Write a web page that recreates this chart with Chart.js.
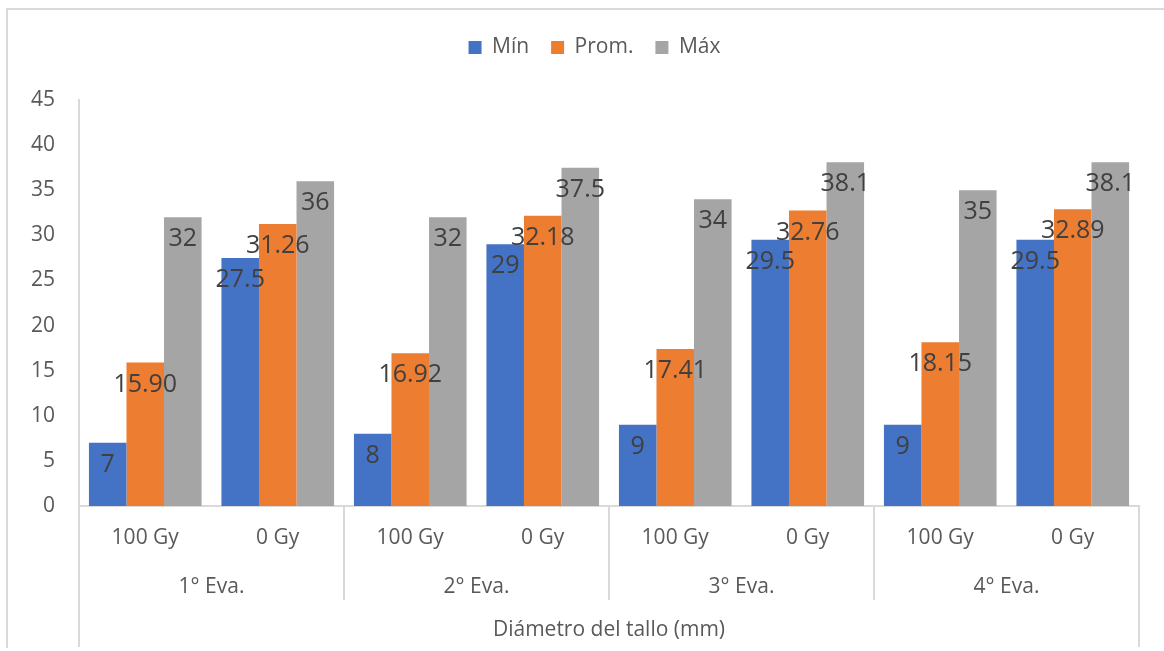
<!DOCTYPE html>
<html lang="es">
<head>
<meta charset="utf-8">
<title>Diámetro del tallo</title>
<script src="https://cdn.jsdelivr.net/npm/chart.js@4.4.1/dist/chart.umd.min.js"></script>
<style>
    html, body { margin: 0; padding: 0; background: #fff; }
    #contenedor { position: relative; width: 1164px; height: 651px; }
</style>
</head>
<body>
<div id="contenedor">
    <canvas id="grafica"></canvas>
</div>
<script>
    // Datos de la gráfica
    const tratamientos = ['100 Gy', '0 Gy', '100 Gy', '0 Gy', '100 Gy', '0 Gy', '100 Gy', '0 Gy'];
    const evaluaciones = ['1° Eva.', '2° Eva.', '3° Eva.', '4° Eva.'];
    const minimos = [7, 27.5, 8, 29, 9, 29.5, 9, 29.5];
    const promedios = [15.90, 31.26, 16.92, 32.18, 17.41, 32.76, 18.15, 32.89];
    const maximos = [32, 36, 32, 37.5, 34, 38.1, 35, 38.1];
    const ticksY = [0, 5, 10, 15, 20, 25, 30, 35, 40, 45];

    const fuente = "'Open Sans', 'Noto Sans', sans-serif";
    const colorTexto = '#595959';
    const colorLinea = '#d9d9d9';

    // Marco exterior del gráfico
    const marco = {
        id: 'marco',
        beforeDraw(chart) {
            const ctx = chart.ctx;
            ctx.save();
            ctx.strokeStyle = colorLinea;
            ctx.lineWidth = 2;
            ctx.beginPath();
            ctx.moveTo(7, 648);
            ctx.lineTo(7, 9);
            ctx.lineTo(chart.width, 9);
            ctx.stroke();
            ctx.restore();
        }
    };

    // Espacio extra debajo de la leyenda y leyenda centrada en el marco
    const espacioLeyenda = {
        id: 'espacioLeyenda',
        beforeLayout(chart) {
            const lg = chart.legend;
            if (lg && !lg._ajustada) {
                const fitOriginal = lg.fit;
                lg.fit = function () {
                    fitOriginal.call(this);
                    this.height = 85;
                };
                lg._ajustada = true;
            }
        },
        afterLayout(chart) {
            const lg = chart.legend;
            if (lg) {
                lg.left += 25;
                lg.right += 25;
            }
        }
    };

    // Eje de categorías en dos niveles (tratamiento / evaluación)
    const ejeAgrupado = {
        id: 'ejeAgrupado',
        afterDraw(chart) {
            const ctx = chart.ctx;
            const x = chart.scales.x;
            const area = chart.chartArea;
            const anchoCat = (area.right - area.left) / tratamientos.length;
            const porGrupo = tratamientos.length / evaluaciones.length;
            ctx.save();
            ctx.strokeStyle = colorLinea;
            ctx.lineWidth = 2;
            ctx.beginPath();
            for (let g = 0; g <= evaluaciones.length; g++) {
                const px = Math.round(area.left + g * porGrupo * anchoCat);
                const fin = (g === 0 || g === evaluaciones.length) ? 647 : 600;
                ctx.moveTo(px, area.bottom);
                ctx.lineTo(px, fin);
            }
            ctx.stroke();

            ctx.fillStyle = colorTexto;
            ctx.font = '21px ' + fuente;
            ctx.textAlign = 'center';
            ctx.textBaseline = 'middle';
            evaluaciones.forEach((ev, g) => {
                const cx = (x.getPixelForValue(g * porGrupo) + x.getPixelForValue(g * porGrupo + porGrupo - 1)) / 2;
                ctx.fillText(ev, cx, 587);
            });
            ctx.restore();
        }
    };

    // Etiquetas de valor dentro del extremo de cada barra
    const etiquetas = {
        id: 'etiquetas',
        afterDatasetsDraw(chart) {
            const ctx = chart.ctx;
            ctx.save();
            ctx.fillStyle = '#404040';
            ctx.font = '25px ' + fuente;
            ctx.textAlign = 'center';
            ctx.textBaseline = 'middle';
            chart.data.datasets.forEach((ds, i) => {
                const meta = chart.getDatasetMeta(i);
                meta.data.forEach((barra, j) => {
                    const v = ds.data[j];
                    const texto = ds.decimales ? v.toFixed(ds.decimales) : String(v);
                    ctx.fillText(texto, barra.x, barra.y + 22);
                });
            });
            ctx.restore();
        }
    };

    const ctx = document.getElementById('grafica').getContext('2d');
    window.miGrafica = new Chart(ctx, {
        type: 'bar',
        data: {
            labels: tratamientos,
            datasets: [
                { label: 'Mín', data: minimos, backgroundColor: '#4472c4', decimales: 0 },
                { label: 'Prom.', data: promedios, backgroundColor: '#ed7d31', decimales: 2 },
                { label: 'Máx', data: maximos, backgroundColor: '#a5a5a5', decimales: 0 }
            ]
        },
        options: {
            responsive: true,
            maintainAspectRatio: false,
            animation: false,
            datasets: {
                bar: { barPercentage: 1, categoryPercentage: 0.85, borderWidth: 0 }
            },
            layout: { padding: { top: 15, right: 25, bottom: 0, left: 0 } },
            plugins: {
                legend: {
                    position: 'top',
                    labels: {
                        boxWidth: 13,
                        boxHeight: 13,
                        padding: 22,
                        color: colorTexto,
                        font: { family: fuente, size: 21 }
                    }
                },
                tooltip: { enabled: false }
            },
            scales: {
                x: {
                    grid: { display: false, drawTicks: false },
                    border: { display: true, color: colorLinea, width: 2 },
                    ticks: {
                        color: colorTexto,
                        padding: 19,
                        font: { family: fuente, size: 21 }
                    },
                    title: {
                        display: true,
                        text: 'Diámetro del tallo (mm)',
                        color: colorTexto,
                        padding: { top: 0, bottom: 8 },
                        font: { family: fuente, size: 21 }
                    },
                    afterFit(escala) { escala.height = 145; }
                },
                y: {
                    min: ticksY[0],
                    max: ticksY[ticksY.length - 1],
                    grid: { display: false, drawTicks: false },
                    border: { display: true, color: colorLinea, width: 2 },
                    afterBuildTicks(escala) { escala.ticks = ticksY.map(v => ({ value: v })); },
                    ticks: {
                        color: colorTexto,
                        padding: 24,
                        font: { family: fuente, size: 21 }
                    },
                    afterFit(escala) { escala.width = 79; }
                }
            }
        },
        plugins: [marco, espacioLeyenda, ejeAgrupado, etiquetas]
    });
</script>
</body>
</html>
